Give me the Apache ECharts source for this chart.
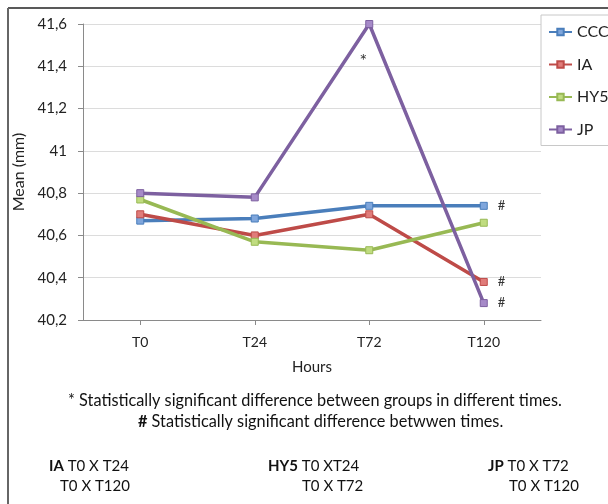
<!DOCTYPE html>
<html><head><meta charset="utf-8">
<script src="https://cdn.jsdelivr.net/npm/echarts@6/dist/echarts.min.js"></script>
<style>html,body{margin:0;padding:0;background:#fff}#c{width:608px;height:504px}</style>
</head><body><div id="c"></div>
<script>
const categories = ['T0', 'T24', 'T72', 'T120'];
const seriesNames = ['CCC', 'IA', 'HY5', 'JP'];
const ccc = [40.67, 40.68, 40.74, 40.74];
const ia  = [40.70, 40.60, 40.70, 40.38];
const hy5 = [40.77, 40.57, 40.53, 40.66];
const jp  = [40.80, 40.78, 41.60, 40.28];
const cccMarks = ['', '', '', '#'];
const iaMarks  = ['', '', '', '#'];
const hy5Marks = ['', '', '', ''];
const jpMarks  = ['', '', '*', '#'];
const yTicks = { min: 40.2, max: 41.6, interval: 0.2 };

const lineColors = ['#4a7ebb', '#be4b48', '#98b954', '#7d60a0'];
const fillColors = ['#7fa6dc', '#e07c7a', '#c0dc80', '#a68ac8'];
const FONT = 'Lato';

function mkData(vals, marks) {
  return vals.map((v, i) => {
    const m = marks[i];
    if (!m) return v;
    if (m === '*') return { value: v, label: { show: true, formatter: m, position: 'bottom', distance: 24, offset: [-6, 0], fontSize: 18, color: '#333', fontFamily: FONT } };
    return { value: v, label: { show: true, formatter: m, position: 'right', distance: 10, fontSize: 13, color: '#333', fontFamily: FONT } };
  });
}
const allVals = [ccc, ia, hy5, jp];
const allMarks = [cccMarks, iaMarks, hy5Marks, jpMarks];

const chart = echarts.init(document.getElementById('c'), null, { renderer: 'canvas' });
const boldRich = { b: { fontWeight: 'bold', fontSize: 15, fontFamily: FONT } };
const txt = (x, y, text, size) => ({ type: 'text', left: x, top: y, style: { text, font: (size || 15) + 'px ' + FONT, fill: '#111', rich: boldRich } });
chart.setOption({
  animation: false,
  backgroundColor: '#fff',
  textStyle: { fontFamily: FONT },
  grid: { left: 83, right: 67, top: 24, bottom: 184, containLabel: false },
  legend: {
    orient: 'vertical', left: 541, top: 15,
    padding: [9, 30, 8, 7], itemGap: 16.5, itemWidth: 23, itemHeight: 8,
    borderColor: '#c8c8c8', borderWidth: 1, backgroundColor: '#fff',
    textStyle: { fontSize: 16, color: '#222', fontFamily: FONT, lineHeight: 16 },
    data: seriesNames
  },
  xAxis: {
    type: 'category', data: categories, boundaryGap: true,
    axisLine: { lineStyle: { color: '#8a8a8a', width: 1 } },
    axisTick: { show: true, alignWithLabel: true, length: 5, lineStyle: { color: '#8a8a8a' } },
    axisLabel: { fontSize: 14, color: '#222', margin: 15, fontFamily: FONT },
    name: 'Hours', nameLocation: 'middle', nameGap: 40,
    nameTextStyle: { fontSize: 15, color: '#222', fontFamily: FONT }
  },
  yAxis: {
    type: 'value', min: yTicks.min, max: yTicks.max, interval: yTicks.interval,
    axisLine: { show: true, lineStyle: { color: '#8a8a8a' } },
    axisTick: { show: true, length: 5, lineStyle: { color: '#8a8a8a' } },
    splitLine: { lineStyle: { color: '#dcdcdc' } },
    axisLabel: { fontSize: 15, color: '#222', margin: 16, fontFamily: FONT,
      formatter: v => String(Number(v.toFixed(1))).replace('.', ',') },
    name: 'Mean (mm)', nameLocation: 'middle', nameGap: 56, nameRotate: 90,
    nameTextStyle: { fontSize: 16, color: '#222', fontFamily: FONT }
  },
  series: seriesNames.map((n, i) => ({
    name: n, type: 'line', data: mkData(allVals[i], allMarks[i]),
    symbol: 'rect', symbolSize: 7, showAllSymbol: true,
    lineStyle: { color: lineColors[i], width: 3.5 },
    itemStyle: { color: fillColors[i], borderColor: lineColors[i], borderWidth: 1 },
    emphasis: { disabled: true }, z: 2 + i
  })),
  graphic: [
    { type: 'line', shape: { x1: 8, y1: 8, x2: 608, y2: 8 }, style: { stroke: '#222', lineWidth: 1.5 } },
    { type: 'line', shape: { x1: 8, y1: 8, x2: 8, y2: 504 }, style: { stroke: '#666', lineWidth: 2 } },
    txt(68, 393, '* Statistically significant difference between groups in different times.', 16.3),
    { type: 'text', left: 138, top: 414, style: { text: '{b|#} Statistically significant difference betwwen times.', font: '16.3px ' + FONT, fill: '#111', rich: { b: { fontWeight: 'bold', fontSize: 16.3, fontFamily: FONT } } } },
    txt(49, 459, '{b|IA} T0 X T24'),
    txt(60, 479, 'T0 X T120'),
    txt(268, 459, '{b|HY5} T0 XT24'),
    txt(302, 479, 'T0 X T72'),
    txt(488, 459, '{b|JP} T0 X T72'),
    txt(509, 479, 'T0 X T120')
  ]
});
</script></body></html>
